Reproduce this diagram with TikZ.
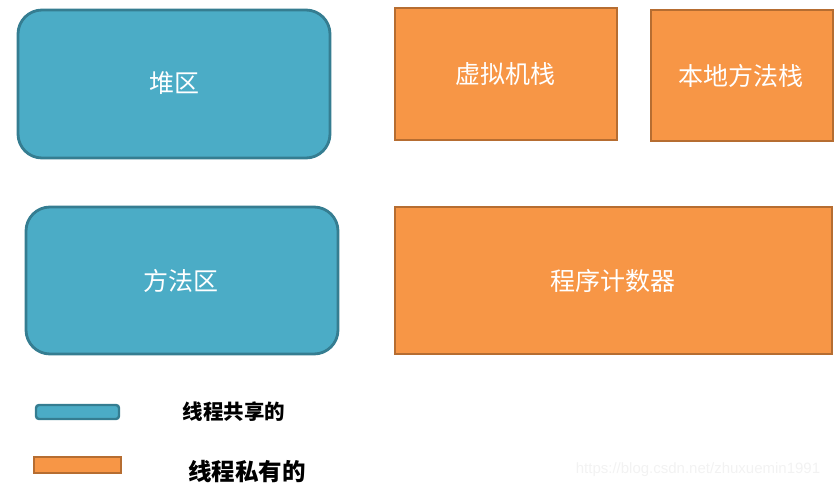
\documentclass[tikz,border=0pt]{standalone}
\usepackage{fontspec}
\newfontfamily\cjk{Noto Sans CJK SC}
\definecolor{bluefill}{HTML}{4BACC6}
\definecolor{blueline}{HTML}{357D91}
\definecolor{orangefill}{HTML}{F79646}
\definecolor{orangeline}{HTML}{B66D31}
\tikzset{
  sharedbox/.style={draw=blueline, fill=bluefill, line width=2.8pt, rounded corners=24pt},
  privbox/.style={draw=orangeline, fill=orangefill, line width=2.8pt},
  boxlabel/.style={text=white, font=\cjk\fontsize{25}{28}\selectfont},
  legendlabel/.style={text=black, font=\cjk\bfseries\fontsize{20.5}{23}\selectfont},
}
\begin{document}
\begin{tikzpicture}[x=1pt,y=-1pt]
\useasboundingbox (0,0) rectangle (836,490);
% shared areas
\draw[sharedbox] (18,10) rectangle (330,158);
\node[boxlabel] (heap) at (174,83) {堆区};
\draw[sharedbox] (26,207) rectangle (338,354);
\node[boxlabel] (method) at (181,281) {方法区};
% private areas
\draw[privbox] (395,8) rectangle (617,140);
\node[boxlabel] (vmstack) at (505,74) {虚拟机栈};
\draw[privbox] (651,10) rectangle (833,141);
\node[boxlabel] (native) at (741,76) {本地方法栈};
\draw[privbox] (395,207) rectangle (832,354);
\node[boxlabel] (pc) at (613,281) {程序计数器};
% legend
\draw[draw=blueline, fill=bluefill, line width=2.4pt, rounded corners=3pt] (36,405) rectangle (119,419);
\node[legendlabel] (shared) at (234,412) {线程共享的};
\draw[draw=orangeline, fill=orangefill, line width=2.4pt] (34,457) rectangle (121,473);
\node[legendlabel, font=\cjk\bfseries\fontsize{23.5}{26}\selectfont] (private) at (247,472) {线程私有的};
% watermark
\node[text=black!5, font=\fontspec{Liberation Sans}\fontsize{15}{17}\selectfont] (wm) at (698,470) {https://blog.csdn.net/zhuxuemin1991};
\end{tikzpicture}
\end{document}
